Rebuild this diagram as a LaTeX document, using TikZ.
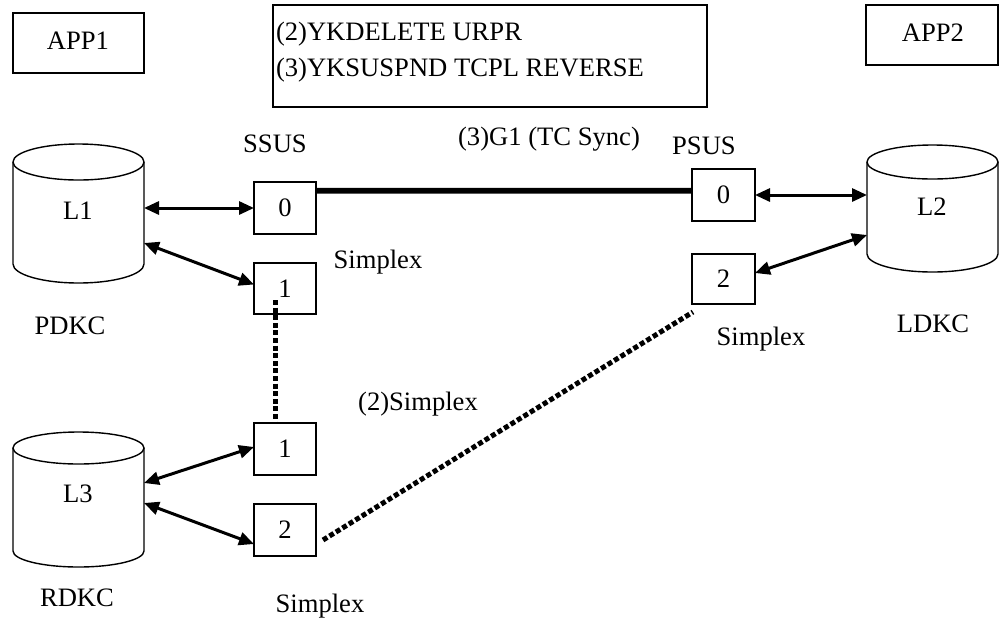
\documentclass[tikz,border=0pt]{standalone}
\usepackage{fontspec}
\setmainfont{Liberation Serif}
\usetikzlibrary{arrows.meta,calc}
\begin{document}
\begin{tikzpicture}[x=0.5pt,y=-0.5pt,
  every node/.style={font=\fontsize{13.3}{16}\selectfont, inner sep=0pt, outer sep=0pt},
  lbl/.style={anchor=base},
  pbox/.style={draw, line width=0.6pt, minimum width=31pt, minimum height=26pt},
  appbox/.style={draw, line width=0.6pt, minimum width=65.5pt, minimum height=30pt},
  cylbody/.style={draw=none, minimum width=65.5pt},
  cyl/.style={line width=0.7pt},
  dbl/.style={line width=1.5pt, {Triangle[length=7.5pt,width=6.5pt]}-{Triangle[length=7.5pt,width=6.5pt]}},
  thick link/.style={line width=2.9pt},
  dotlink/.style={line width=2.5pt, dash pattern=on 2.5pt off 1.3pt}
]
\useasboundingbox (0,0) rectangle (1003,623);

% application boxes
\node[appbox] (app1) at (78.5,43) {};
\node[lbl] (app1t) at (78,49) {APP1};
\node[appbox, minimum width=66pt] (app2) at (932,35) {};
\node[lbl] (app2t) at (933,41) {APP2};

% command box
\node[draw, line width=0.6pt, minimum width=217pt, minimum height=51pt] (cmd) at (490,56) {};
\node[anchor=base west] (cmd1) at (276,40) {(2)YKDELETE URPR};
\node[anchor=base west] (cmd2) at (276,76) {(3)YKSUSPND TCPL REVERSE};

% cylinders
\node[cylbody, minimum height=51pt] (L1) at (78.5,213) {};
\draw[cyl] (L1.north) ellipse[x radius=32.75pt, y radius=9pt];
\draw[cyl] (L1.north west) -- (L1.south west) arc[start angle=180, end angle=360, x radius=32.75pt, y radius=9.5pt] -- (L1.north east);
\node[lbl] (L1t) at (78,219) {L1};

\node[cylbody, minimum height=46pt] (L2) at (932.5,208) {};
\draw[cyl] (L2.north) ellipse[x radius=32.75pt, y radius=8.5pt];
\draw[cyl] (L2.north west) -- (L2.south west) arc[start angle=180, end angle=360, x radius=32.75pt, y radius=9pt] -- (L2.north east);
\node[lbl] (L2t) at (932,215) {L2};

\node[cylbody, minimum height=51.5pt] (L3) at (78.5,499.5) {};
\draw[cyl] (L3.north) ellipse[x radius=32.75pt, y radius=8pt];
\draw[cyl] (L3.north west) -- (L3.south west) arc[start angle=180, end angle=360, x radius=32.75pt, y radius=8pt] -- (L3.north east);
\node[lbl] (L3t) at (78,502) {L3};

% pair volume boxes
\node[pbox] (b0L) at (285,208) {0};
\node[pbox, minimum height=25.5pt] (b1L) at (285,288.5) {1};
\node[pbox] (b13) at (285,449) {1};
\node[pbox] (b23) at (285,530) {2};
\node[pbox, minimum width=31.5pt] (b0R) at (723.5,195) {0};
\node[pbox, minimum width=31.5pt, minimum height=25pt] (b2R) at (723.5,279) {2};

% labels
\node[lbl] (ssus) at (275,152) {SSUS};
\node[lbl] (psus) at (704,154) {PSUS};
\node[lbl] (g1) at (549,145) {(3)G1 (TC Sync)};
\node[lbl] (sx1) at (378,268) {Simplex};
\node[lbl] (pdkc) at (70,334) {PDKC};
\node[lbl] (ldkc) at (933,332) {LDKC};
\node[lbl] (sx2) at (761,345) {Simplex};
\node[lbl] (sx3) at (418,410) {(2)Simplex};
\node[lbl] (rdkc) at (77,606) {RDKC};
\node[lbl] (sx4) at (320,612) {Simplex};

% connectors
\draw[dbl] (b0L.west -| L1.east) -- (b0L.west);
\draw[dbl] ($(L1.east)+(0,30)$) -- ($(b1L.west)+(0,-4)$);
\draw[dbl] ($(L3.east)+(0,-16.5)$) -- ($(b13.west)+(0,-2)$);
\draw[dbl] ($(L3.east)+(0,3.5)$) -- ($(b23.west)+(0,14)$);
\draw[dbl] (b0R.east) -- (b0R.east -| L2.west);
\draw[dbl] ($(b2R.east)+(0,-6)$) -- ($(L2.west)+(0,27)$);

\draw[thick link] ($(b0L.north east)!0.17!(b0L.south east)$) -- ($(b0R.north west)!0.42!(b0R.south west)$);

\coordinate (d1) at ($(b1L.south west)!0.35!(b1L.south east)+(0,-14)$);
\draw[dotlink] (d1) -- (d1 |- b13.north);
\draw[dotlink] ($(b23.east)+(7,10)$) -- ($(b2R.south west)+(1,8)$);
\end{tikzpicture}
\end{document}
